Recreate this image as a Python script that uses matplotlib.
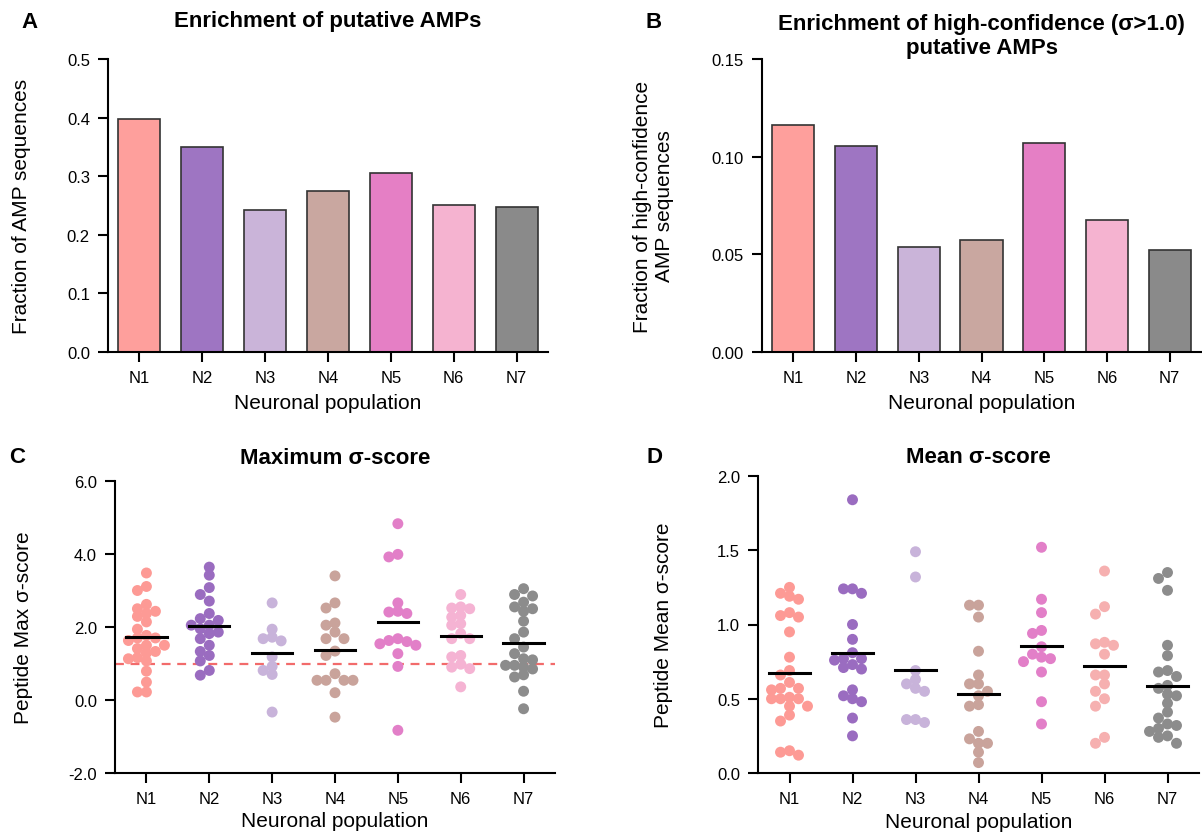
import numpy as np
import matplotlib
matplotlib.use("Agg")
import matplotlib.pyplot as plt

plt.rcParams['font.family'] = ['Liberation Sans', 'DejaVu Sans']
plt.rcParams['axes.unicode_minus'] = False

W, H = 1202, 837

groups = ['N1', 'N2', 'N3', 'N4', 'N5', 'N6', 'N7']
bar_colors = ['#fe9f9c', '#9e75c2', '#cab4d9', '#c9a7a0', '#e57fc5', '#f5b3d0', '#8a8a8a']
dot_colors_c = ['#fd9a95', '#9a6cc0', '#c8b3da', '#c9a39b', '#e27fc8', '#f5b3d3', '#8c8c8c']
dot_colors_d = ['#fd9a95', '#9a6cc0', '#c8b3da', '#c9a39b', '#e27fc8', '#f6b0b0', '#8c8c8c']

# panel A / B bar heights
frac_amp = [0.398, 0.350, 0.242, 0.275, 0.306, 0.251, 0.247]
frac_high = [0.116, 0.1055, 0.054, 0.0575, 0.107, 0.0675, 0.052]

# panel C: peptide max sigma-score per group
max_n1 = [3.48, 3.11, 3.00, 2.62, 2.50, 2.43, 2.37, 2.29, 2.14, 1.94, 1.77, 1.70, 1.70,
          1.63, 1.50, 1.50, 1.41, 1.33, 1.29, 1.16, 1.13, 1.07, 0.79, 0.49, 0.22, 0.22]
max_n2 = [3.64, 3.42, 3.08, 2.89, 2.71, 2.37, 2.23, 2.18, 2.05, 2.05, 1.95, 1.86, 1.82,
          1.68, 1.50, 1.33, 1.22, 1.07, 0.81, 0.68]
max_n3 = [2.66, 1.94, 1.72, 1.68, 1.62, 1.18, 0.92, 0.81, 0.70, -0.33]
max_n4 = [3.40, 2.66, 2.52, 2.11, 2.05, 1.86, 1.68, 1.68, 1.34, 1.22, 0.72, 0.54, 0.54,
          0.54, 0.54, 0.20, -0.47]
max_n5 = [4.83, 3.99, 3.92, 2.66, 2.43, 2.41, 2.37, 1.68, 1.63, 1.60, 1.54, 1.50, 1.27,
          0.92, -0.83]
max_n6 = [2.89, 2.50, 2.55, 2.52, 2.27, 2.32, 2.09, 2.05, 1.82, 1.68, 1.68, 1.22, 1.18,
          0.98, 0.90, 0.86, 0.36]
max_n7 = [3.05, 2.89, 2.85, 2.68, 2.55, 2.50, 2.43, 2.16, 1.86, 1.68, 1.45, 1.27, 1.13,
          1.10, 0.95, 0.95, 0.90, 0.85, 0.69, 0.63, 0.24, -0.24]

# panel D: peptide mean sigma-score per group
mean_n1 = [1.25, 1.21, 1.19, 1.17, 1.06, 1.08, 1.05, 0.95, 0.78, 0.69, 0.66, 0.61, 0.57,
           0.57, 0.56, 0.50, 0.50, 0.50, 0.51, 0.45, 0.45, 0.39, 0.35, 0.15, 0.12, 0.14]
mean_n2 = [1.84, 1.24, 1.21, 1.24, 1.00, 0.90, 0.81, 0.77, 0.77, 0.76, 0.73, 0.70, 0.71,
           0.50, 0.56, 0.48, 0.52, 0.37, 0.25]
mean_n3 = [1.49, 1.32, 0.69, 0.63, 0.57, 0.55, 0.60, 0.36, 0.34, 0.36]
mean_n4 = [1.13, 1.13, 1.05, 0.82, 0.60, 0.60, 0.66, 0.55, 0.52, 0.45, 0.46, 0.28, 0.20,
           0.20, 0.23, 0.14, 0.07]
mean_n5 = [1.52, 1.17, 1.08, 0.94, 0.96, 0.85, 0.80, 0.77, 0.78, 0.75, 0.68, 0.48, 0.33]
mean_n6 = [1.36, 1.12, 1.07, 0.86, 0.88, 0.87, 0.80, 0.66, 0.66, 0.60, 0.55, 0.50, 0.45,
           0.20, 0.24]
mean_n7 = [1.35, 1.31, 1.23, 0.86, 0.79, 0.69, 0.68, 0.65, 0.59, 0.57, 0.53, 0.52, 0.47,
           0.41, 0.37, 0.33, 0.32, 0.30, 0.28, 0.25, 0.24, 0.20]

max_scores = [max_n1, max_n2, max_n3, max_n4, max_n5, max_n6, max_n7]
mean_scores = [mean_n1, mean_n2, mean_n3, mean_n4, mean_n5, mean_n6, mean_n7]


def px_box(l, t, r, b):
    return [l / W, 1 - b / H, (r - l) / W, (b - t) / H]


def style(ax, ylim, yticks, fmt):
    ax.set_xlim(-0.5, 6.5)
    ax.set_ylim(*ylim)
    ax.set_xticks(range(7))
    ax.set_xticklabels(groups)
    ax.set_yticks(yticks)
    ax.set_yticklabels([fmt.format(v) for v in yticks])
    for s in ['top', 'right']:
        ax.spines[s].set_visible(False)
    for s in ['left', 'bottom']:
        ax.spines[s].set_linewidth(1.5)
    ax.tick_params(length=7, width=1.5, labelsize=12, pad=6)
    ax.set_xlabel('Neuronal population', fontsize=15)


def swarm(vals, ppx, ppy, step_px=9.0, gap_px=7.5):
    # greedy beeswarm in pixel space, returns x offsets in data units
    vals = np.asarray(vals, float)
    order = np.argsort(-vals)
    placed = []
    offs = np.zeros(len(vals))
    for i in order:
        y = vals[i] * ppy
        k = 0
        while True:
            step = ((k + 1) // 2) * (-1 if k % 2 else 1)
            x = step * step_px
            if all((x - px) ** 2 + (y - py) ** 2 >= gap_px ** 2 for px, py in placed):
                break
            k += 1
        placed.append((x, y))
        offs[i] = x / ppx
    return offs


fig = plt.figure(figsize=(W / 100, H / 100), dpi=100)

# A
axA = fig.add_axes(px_box(108, 60, 548, 353))
axA.bar(range(7), frac_amp, width=0.67, color=bar_colors, edgecolor='#333333', linewidth=1.2)
style(axA, (0, 0.5), [0, 0.1, 0.2, 0.3, 0.4, 0.5], '{:.1f}')
axA.set_ylabel('Fraction of AMP sequences', fontsize=15)
axA.yaxis.set_label_coords(-0.175, 0.5)
axA.xaxis.set_label_coords(0.5, -0.14)
axA.text(0.5, 1.13, 'Enrichment of putative AMPs', transform=axA.transAxes,
         ha='center', va='center', fontsize=16, fontweight='bold')

# B
axB = fig.add_axes(px_box(762, 60, 1201, 353))
axB.bar(range(7), frac_high, width=0.67, color=bar_colors, edgecolor='#333333', linewidth=1.2)
style(axB, (0, 0.15), [0, 0.05, 0.10, 0.15], '{:.2f}')
axB.set_ylabel('Fraction of high-confidence\nAMP sequences', fontsize=15)
axB.yaxis.set_label_coords(-0.2, 0.5)
axB.xaxis.set_label_coords(0.5, -0.14)
axB.text(0.5, 1.08, 'Enrichment of high-confidence (σ>1.0)\nputative AMPs', transform=axB.transAxes,
         ha='center', va='center', fontsize=16, fontweight='bold', linespacing=1.15)

# C
lC, tC, rC, bC = 115, 482, 555, 774
axC = fig.add_axes(px_box(lC, tC, rC, bC))
axC.axhline(1.0, color='#f26b6b', ls=(0, (4, 3)), lw=1.6, zorder=1)
ppx = (rC - lC) / 7
ppy = (bC - tC) / 8
for i, vals in enumerate(max_scores):
    xs = i + swarm(vals, ppx, ppy)
    axC.scatter(xs, vals, s=62, color=dot_colors_c[i], edgecolors='none', zorder=2)
    axC.plot([i - 0.32, i + 0.32], [np.mean(vals)] * 2, color='black', lw=2.2, zorder=3)
style(axC, (-2, 6), [-2, 0, 2, 4, 6], '{:.1f}')
axC.set_ylabel('Peptide Max σ-score', fontsize=15)
axC.yaxis.set_label_coords(-0.186, 0.5)
axC.xaxis.set_label_coords(0.5, -0.13)
axC.text(0.5, 1.082, 'Maximum σ-score', transform=axC.transAxes,
         ha='center', va='center', fontsize=16, fontweight='bold')

# D
lD, tD, rD, bD = 758, 477, 1199, 774
axD = fig.add_axes(px_box(lD, tD, rD, bD))
ppx = (rD - lD) / 7
ppy = (bD - tD) / 2
for i, vals in enumerate(mean_scores):
    xs = i + swarm(vals, ppx, ppy)
    axD.scatter(xs, vals, s=62, color=dot_colors_d[i], edgecolors='none', zorder=2)
    axD.plot([i - 0.32, i + 0.32], [np.mean(vals)] * 2, color='black', lw=2.2, zorder=3)
style(axD, (0, 2), [0, 0.5, 1.0, 1.5, 2.0], '{:.1f}')
axD.set_ylabel('Peptide Mean σ-score', fontsize=15)
axD.yaxis.set_label_coords(-0.193, 0.5)
axD.xaxis.set_label_coords(0.5, -0.13)
axD.text(0.5, 1.064, 'Mean σ-score', transform=axD.transAxes,
         ha='center', va='center', fontsize=16, fontweight='bold')

for letter, x, y in [('A', 29, 23), ('B', 654, 23), ('C', 17, 458), ('D', 654, 458)]:
    fig.text(x / W, 1 - y / H, letter, ha='center', va='center', fontsize=16, fontweight='bold')

fig.savefig('out.png', dpi=100)
